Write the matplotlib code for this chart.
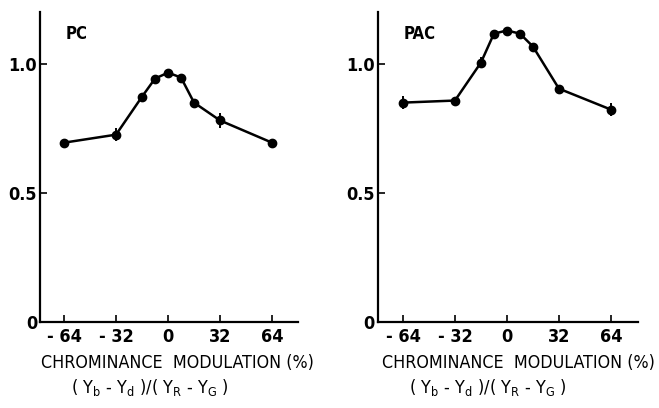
import numpy as np
import matplotlib
matplotlib.use('Agg')
import matplotlib.pyplot as plt

plt.rcParams['font.family'] = ['DejaVu Sans']
plt.rcParams['font.stretch'] = 'condensed'
plt.rcParams['mathtext.default'] = 'regular'

# modulation (%) and relative response
mod = [-64, -32, -16, -8, 0, 8, 16, 32, 64]
pc_vals = [0.694, 0.725, 0.872, 0.942, 0.965, 0.946, 0.849, 0.78, 0.694]
pc_err = [0.0, 0.025, 0.0, 0.0, 0.0, 0.0, 0.0, 0.03, 0.0]
pac_vals = [0.849, 0.857, 1.004, 1.116, 1.128, 1.116, 1.066, 0.903, 0.822]
pac_err = [0.025, 0.0, 0.02, 0.0, 0.0, 0.0, 0.0, 0.0, 0.025]

xticks = [-64, -32, 0, 32, 64]
xticklabels = ['- 64', '- 32', '0', '32', '64']
yticks = [0, 0.5, 1.0]
yticklabels = ['0', '0.5', '1.0']

fig = plt.figure(figsize=(6.59, 4.08), dpi=100)
ax1 = fig.add_axes([0.0607, 0.2108, 0.3915, 0.76])
ax2 = fig.add_axes([0.573, 0.2108, 0.395, 0.76])

def draw_panel(ax, vals, err, name, xlim):
    ax.errorbar(mod, vals, yerr=err, fmt='-o', color='black', lw=1.8,
                ms=6, elinewidth=1.4, capsize=0)
    ax.set_xlim(*xlim)
    ax.set_ylim(0, 1.2)
    for s in ['top', 'right']:
        ax.spines[s].set_visible(False)
    for s in ['left', 'bottom']:
        ax.spines[s].set_linewidth(1.6)
    ax.set_xticks(xticks)
    ax.set_xticklabels(xticklabels, fontsize=13, fontweight='bold')
    ax.set_yticks(yticks)
    ax.set_yticklabels(yticklabels, fontsize=13, fontweight='bold')
    ax.tick_params(axis='x', direction='in', length=5, width=1.2, pad=4)
    ax.tick_params(axis='y', direction='in', length=5, width=1.2, pad=2)
    ax.text(0.1, 0.93, name, transform=ax.transAxes, fontsize=12,
            fontweight='bold', ha='left', va='center')

draw_panel(ax1, pc_vals, pc_err, 'PC', (-78.8, 80))
draw_panel(ax2, pac_vals, pac_err, 'PAC', (-79.6, 80.6))

fig.text(177 / 659, 1 - 363 / 408, 'CHROMINANCE  MODULATION (%)',
         fontsize=12.8, ha='center', va='center')
fig.text(518 / 659, 1 - 363 / 408, 'CHROMINANCE  MODULATION (%)',
         fontsize=12.8, ha='center', va='center')
sub = r'( Y$_b$ - Y$_d$ )/( Y$_R$ - Y$_G$ )'
fig.text(150 / 659, 1 - 388 / 408, sub, fontsize=13, ha='center', va='center')
fig.text(488 / 659, 1 - 388 / 408, sub, fontsize=13, ha='center', va='center')

fig.savefig('out.png', dpi=100)
